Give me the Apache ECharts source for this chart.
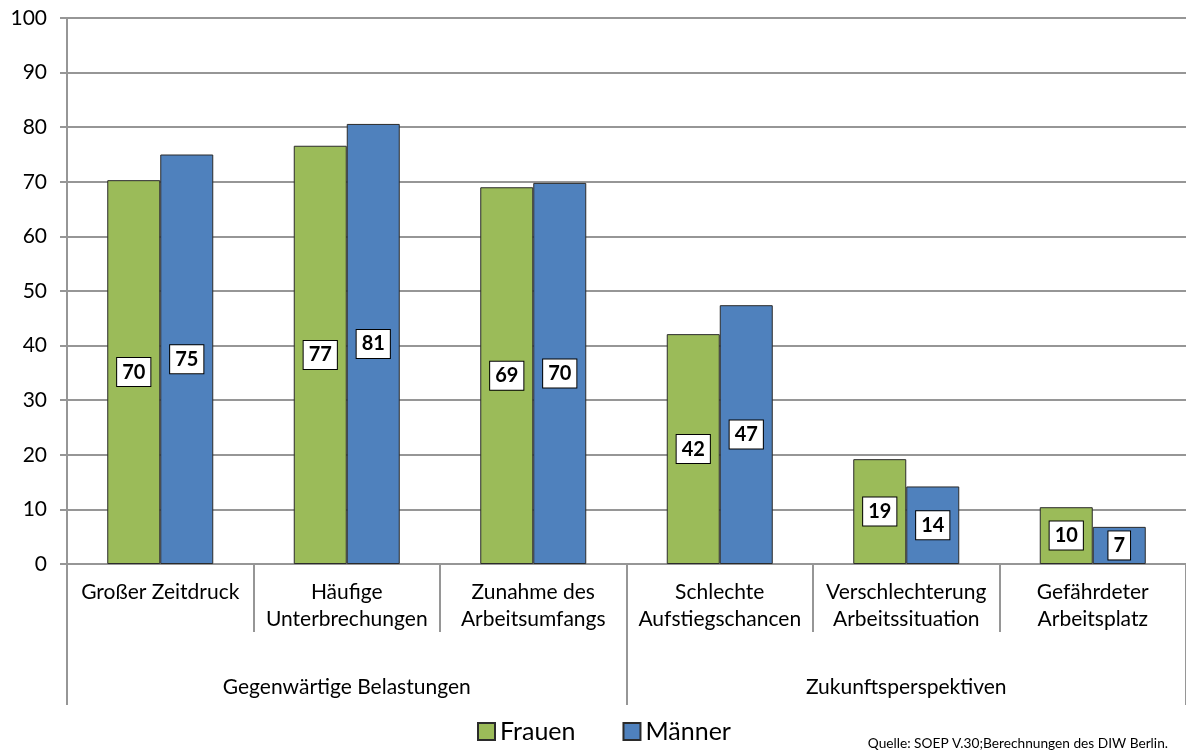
<!DOCTYPE html>
<html>
<head>
<meta charset="utf-8">
<script src="https://cdn.jsdelivr.net/npm/echarts@6/dist/echarts.min.js"></script>
<style>
  html, body { margin: 0; padding: 0; background: #fff; }
  #chart { width: 1186px; height: 755px; }
</style>
</head>
<body>
<div id="chart"></div>
<script>
// Kategorien und Gruppen
const categories = [
  'Großer Zeitdruck',
  'Häufige\nUnterbrechungen',
  'Zunahme des\nArbeitsumfangs',
  'Schlechte\nAufstiegschancen',
  'Verschlechterung\nArbeitssituation',
  'Gefährdeter\nArbeitsplatz'
]
const groups = ['Gegenwärtige Belastungen', 'Zukunftsperspektiven']

// Werte (in Prozent)
const frauen = [70.3, 76.6, 69.0, 42.1, 19.2, 10.4]
const maenner = [75.0, 80.6, 69.8, 47.4, 14.2, 6.8]

const yTicks = { min: 0, max: 100, interval: 10 }
const sourceNote = 'Quelle: SOEP V.30;Berechnungen des DIW Berlin.'

const FONT = 'Lato, "Noto Sans", sans-serif'
const axisGrey = '#969696'

const chart = echarts.init(document.getElementById('chart'))

const barLabel = {
  show: true,
  position: 'inside',
  formatter: (p) => Math.round(p.value),
  fontFamily: FONT,
  fontWeight: 'bold',
  fontSize: 20,
  color: '#000',
  backgroundColor: '#fff',
  borderColor: '#000',
  borderWidth: 1,
  padding: [5, 5, 3, 5]
}

const option = {
  animation: false,
  textStyle: { fontFamily: FONT },
  grid: {
    left: 67,
    right: -4,
    top: 18,
    bottom: 191,
    containLabel: false
  },
  legend: {
    left: 472,
    top: 714,
    itemWidth: 17,
    itemHeight: 17,
    itemGap: 47,
    icon: 'rect',
    textStyle: { fontSize: 25, color: '#000', fontFamily: FONT },
    data: ['Frauen', 'Männer']
  },
  graphic: [
    {
      type: 'text',
      right: 18,
      bottom: 4,
      style: {
        text: sourceNote,
        font: '13.7px ' + FONT,
        fill: '#000'
      }
    }
  ],
  xAxis: [
    {
      type: 'category',
      data: categories,
      position: 'bottom',
      axisLine: { lineStyle: { color: axisGrey, width: 2 } },
      axisTick: {
        show: true,
        alignWithLabel: false,
        length: 68,
        lineStyle: { color: axisGrey, width: 2 }
      },
      axisLabel: {
        interval: 0,
        margin: 15,
        fontSize: 21,
        lineHeight: 27,
        color: '#000',
        fontFamily: FONT
      },
      splitLine: { show: false }
    },
    {
      type: 'category',
      data: groups,
      position: 'bottom',
      axisLine: { show: false },
      axisTick: {
        show: true,
        alignWithLabel: false,
        length: 141,
        lineStyle: { color: axisGrey, width: 2 }
      },
      axisLabel: {
        interval: 0,
        margin: 113,
        fontSize: 21,
        color: '#000',
        fontFamily: FONT
      },
      splitLine: { show: false }
    }
  ],
  yAxis: {
    type: 'value',
    min: yTicks.min,
    max: yTicks.max,
    interval: yTicks.interval,
    axisLine: { show: true, lineStyle: { color: axisGrey, width: 2 } },
    axisTick: { show: true, length: 7, lineStyle: { color: axisGrey, width: 2 } },
    axisLabel: {
      margin: 20,
      fontSize: 21,
      color: '#000',
      fontFamily: FONT
    },
    splitLine: { lineStyle: { color: axisGrey, width: 2 } }
  },
  series: [
    {
      name: 'Frauen',
      type: 'bar',
      xAxisIndex: 0,
      data: frauen,
      barWidth: 53,
      barGap: '0%',
      itemStyle: { color: '#9BBB59', borderColor: '#2b2b2b', borderWidth: 1 },
      label: barLabel,
      z: 3
    },
    {
      name: 'Männer',
      type: 'bar',
      xAxisIndex: 0,
      data: maenner,
      barWidth: 53,
      barGap: '0%',
      itemStyle: { color: '#4F81BD', borderColor: '#2b2b2b', borderWidth: 1 },
      label: barLabel,
      z: 3
    }
  ]
}

chart.setOption(option)
</script>
</body>
</html>
